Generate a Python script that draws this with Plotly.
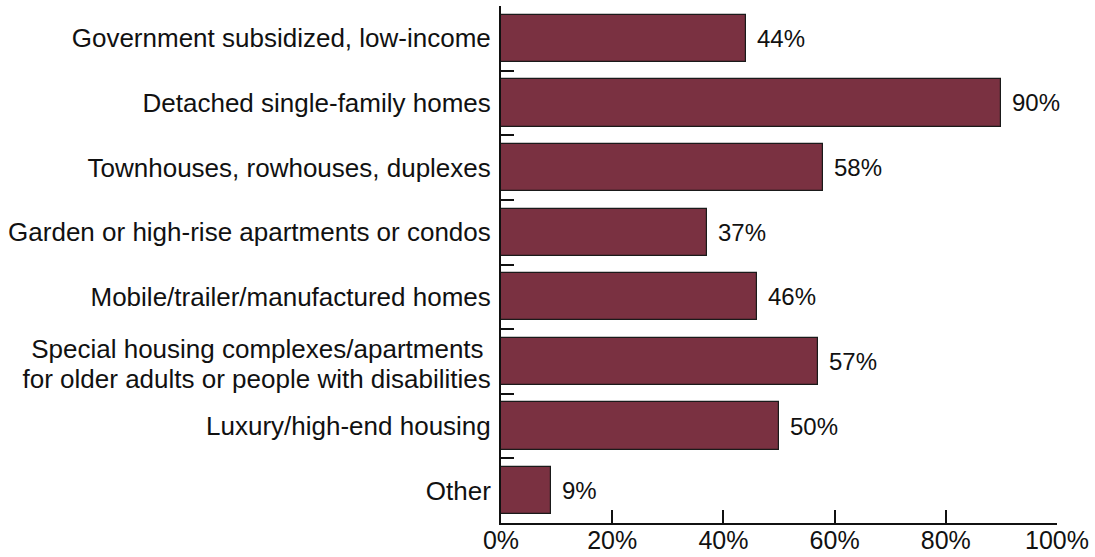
import plotly.graph_objects as go

categories = [
    "Government subsidized, low-income",
    "Detached single-family homes",
    "Townhouses, rowhouses, duplexes",
    "Garden or high-rise apartments or condos",
    "Mobile/trailer/manufactured homes",
    "Special housing complexes/apartments <br>for older adults or people with disabilities",
    "Luxury/high-end housing",
    "Other",
]
values = [44, 90, 58, 37, 46, 57, 50, 9]
x_ticks = [0, 20, 40, 60, 80, 100]
x_tick_labels = ["0%", "20%", "40%", "60%", "80%", "100%"]

positions = list(range(len(categories)))
boundaries = [p + 0.5 for p in positions[:-1]]

# category labels: wrapped names are laid out line by line for tighter leading
label_vals, label_text = [], []
for p, name in zip(positions, categories):
    lines = name.split("<br>")
    if len(lines) == 1:
        label_vals.append(p)
        label_text.append(name)
    else:
        offsets = [-0.2, 0.27]
        for off, line in zip(offsets, lines):
            label_vals.append(p + off)
            label_text.append(line)

fig = go.Figure(
    go.Bar(
        x=values,
        y=positions,
        orientation="h",
        width=0.73,
        marker=dict(color="#7a3141", line=dict(color="#1a1a1a", width=1.2)),
        hoverinfo="x",
    )
)

# value labels to the right of each bar
for p, v in zip(positions, values):
    fig.add_annotation(
        x=v,
        y=p,
        text=f"{v}%",
        showarrow=False,
        xanchor="left",
        yanchor="middle",
        xshift=9,
        font=dict(size=24, color="#111111"),
    )

fig.update_layout(
    width=1095,
    height=557,
    margin=dict(l=501, r=38, t=6, b=34),
    paper_bgcolor="white",
    plot_bgcolor="white",
    font=dict(family="Liberation Sans, Arial, sans-serif", color="#111111"),
    showlegend=False,
    bargap=0,
)

fig.update_xaxes(
    range=[0, 100],
    tickvals=x_ticks,
    ticktext=x_tick_labels,
    ticks="inside",
    ticklen=13,
    tickwidth=2,
    tickcolor="#111111",
    showline=True,
    linecolor="#111111",
    linewidth=2,
    showgrid=False,
    zeroline=False,
    tickfont=dict(size=25),
    ticklabelstandoff=-6,
    automargin=False,
)

fig.update_yaxes(
    range=[len(categories) - 0.5, -0.5],
    tickvals=label_vals,
    ticktext=label_text,
    ticks="",
    showline=True,
    linecolor="#111111",
    linewidth=2,
    showgrid=False,
    zeroline=False,
    tickfont=dict(size=26),
    ticklabelstandoff=3,
    automargin=False,
    minor=dict(
        tickvals=boundaries,
        ticks="inside",
        ticklen=13,
        tickwidth=2,
        tickcolor="#111111",
        showgrid=False,
    ),
)

fig.write_html("out.html")
